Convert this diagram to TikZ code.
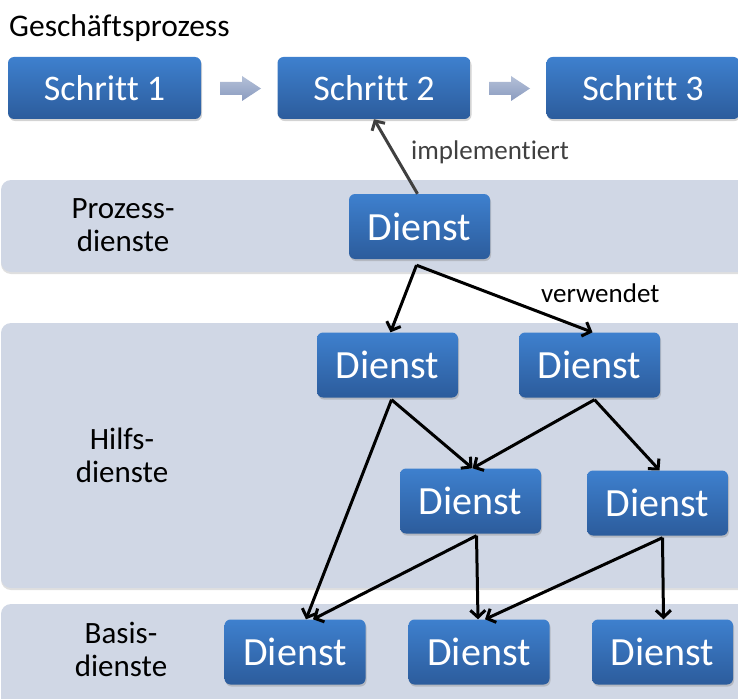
\documentclass[tikz,border=0pt]{standalone}
\usepackage{fontspec}
\setmainfont[Ligatures=NoCommon]{Carlito}
\usetikzlibrary{arrows.meta,shadows}

\definecolor{bandfill}{HTML}{D0D7E5}
\definecolor{boxtop}{HTML}{3E80CE}
\definecolor{boxbot}{HTML}{2C5C9C}
\definecolor{impgray}{HTML}{404040}
\definecolor{flowtop}{HTML}{B4C0D8}
\definecolor{flowbot}{HTML}{8A9BBF}

\tikzset{
  band/.style={fill=bandfill, rounded corners=10pt,
    drop shadow={shadow xshift=0pt, shadow yshift=-2pt, opacity=0.25}},
  svcbox/.style={rounded corners=6pt, top color=boxtop, bottom color=boxbot,
    text=white, minimum width=141pt, minimum height=65pt, inner sep=0pt,
    font=\fontsize{40}{42}\selectfont,
    drop shadow={shadow xshift=1pt, shadow yshift=-2pt, opacity=0.35}},
  stepbox/.style={svcbox, minimum width=193pt, minimum height=62pt,
    font=\fontsize{36}{38}\selectfont},
  layerlabel/.style={align=center, inner sep=0pt, font=\fontsize{31}{33}\selectfont},
  edgelabel/.style={inner sep=0pt, font=\fontsize{27}{29}\selectfont},
  uses/.style={-{Straight Barb[length=7pt,width=15pt]}, line width=3pt, black},
  impl/.style={-{Straight Barb[length=7pt,width=15pt]}, line width=3pt, impgray},
  flow/.style={top color=flowtop, bottom color=flowbot},
}

\begin{document}
\begin{tikzpicture}[x=1pt,y=-1pt]
\useasboundingbox (0,0) rectangle (738,698);
\clip (0,0) rectangle (738,698);

% layer bands
\path[band] (1,180) rectangle (770,272);
\path[band] (1,323) rectangle (770,588);
\path[band] (1,604) rectangle (770,720);

% title and layer labels
\node[anchor=base west, inner sep=0pt, font=\fontsize{31.5}{33}\selectfont] (title) at (9,37) {Geschäftsprozess};
\node[layerlabel] (lp) at (123,225.5) {Prozess-\\dienste};
\node[layerlabel] (lh) at (122,455) {Hilfs-\\dienste};
\node[layerlabel] (lb) at (121,649) {Basis-\\dienste};

% business process steps
\node[stepbox] (s1) at (104.5,88) {Schritt 1};
\node[stepbox] (s2) at (374,88) {Schritt 2};
\node[stepbox] (s3) at (643,88) {Schritt 3};
\shade[flow] (220,82) -- (242,82) -- (242,76) -- (261,88.5) -- (242,101) -- (242,95) -- (220,95) -- cycle;
\shade[flow] (489,82) -- (511,82) -- (511,76) -- (530,88.5) -- (511,101) -- (511,95) -- (489,95) -- cycle;

% services
\node[svcbox] (pd) at (419.5,226.5) {Dienst};
\node[svcbox] (h1) at (387.5,365) {Dienst};
\node[svcbox] (h2) at (589.5,365) {Dienst};
\node[svcbox] (h3) at (470.5,501) {Dienst};
\node[svcbox] (h4) at (657.5,503) {Dienst};
\node[svcbox] (b1) at (295,652) {Dienst};
\node[svcbox] (b2) at (479,652) {Dienst};
\node[svcbox] (b3) at (662.5,652) {Dienst};

% implementation link
\draw[impl] ([xshift=-2pt]pd.north) -- (s2.south);
\node[edgelabel, anchor=base west, text=impgray] (limpl) at (411,159) {implementiert};

% usage links
\draw[uses] ([xshift=-3pt,yshift=-6pt]pd.south) -- ([xshift=3pt]h1.north);
\draw[uses] ([xshift=-3pt,yshift=-6pt]pd.south) -- ([xshift=3pt]h2.north);
\node[edgelabel, anchor=base west] (luse) at (541,302) {verwendet};

\draw[uses] ([xshift=4pt,yshift=-2pt]h1.south) -- ([xshift=2pt]h3.north);
\draw[uses] ([xshift=4pt,yshift=-2pt]h1.south) -- ([xshift=11pt]b1.north);
\draw[uses] ([xshift=5pt,yshift=-2pt]h2.south) -- ([xshift=2pt]h3.north);
\draw[uses] ([xshift=5pt,yshift=-2pt]h2.south) -- ([xshift=2pt]h4.north);
\draw[uses] ([xshift=6pt,yshift=-2pt]h3.south) -- ([xshift=18pt]b1.north);
\draw[uses] ([xshift=6pt,yshift=-2pt]h3.south) -- ([xshift=-1pt]b2.north);
\draw[uses] ([xshift=5pt,yshift=-2pt]h4.south) -- ([xshift=6pt]b2.north);
\draw[uses] ([xshift=5pt,yshift=-2pt]h4.south) -- ([xshift=1pt]b3.north);
\end{tikzpicture}
\end{document}
